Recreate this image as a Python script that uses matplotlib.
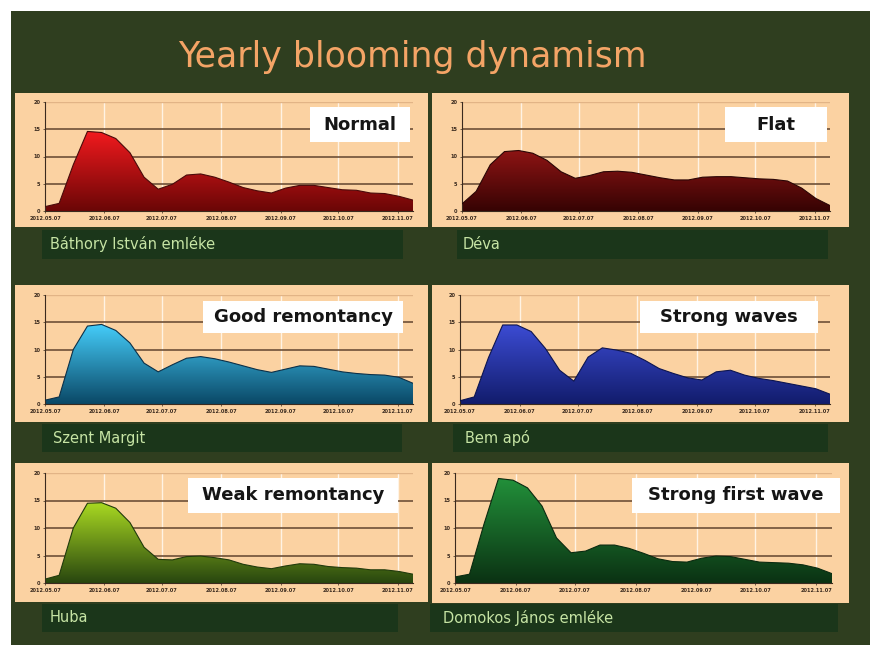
import numpy as np
import matplotlib.pyplot as plt
from matplotlib.patches import Rectangle, Polygon
from matplotlib.colors import LinearSegmentedColormap

W, H = 876, 645

month_labels = ['2012.05.07', '2012.06.07', '2012.07.07', '2012.08.07',
                '2012.09.07', '2012.10.07', '2012.11.07']
month_days = [0, 31, 61, 92, 123, 153, 184]
sample_days = np.linspace(0, 192, 27)

normal = [0.8, 1.4, 8.5, 14.6, 14.4, 13.3, 10.7, 6.2, 4.0, 4.9, 6.6, 6.8, 6.2, 5.3,
          4.3, 3.7, 3.3, 4.2, 4.7, 4.7, 4.3, 3.9, 3.8, 3.3, 3.2, 2.7, 2.0]
flat = [1.3, 3.6, 8.5, 10.9, 11.1, 10.6, 9.3, 7.2, 6.0, 6.5, 7.2, 7.3, 7.1, 6.6,
        6.1, 5.7, 5.7, 6.2, 6.3, 6.3, 6.1, 5.9, 5.8, 5.5, 4.2, 2.3, 1.0]
good = [0.7, 1.3, 10.0, 14.3, 14.6, 13.5, 11.2, 7.5, 5.9, 7.2, 8.4, 8.7, 8.3, 7.7,
        7.0, 6.3, 5.8, 6.4, 7.0, 6.9, 6.4, 5.9, 5.6, 5.4, 5.3, 4.9, 3.8]
waves = [0.6, 1.3, 8.5, 14.5, 14.5, 13.3, 10.2, 6.2, 4.2, 8.6, 10.3, 9.9, 9.3, 8.0,
         6.5, 5.6, 4.8, 4.4, 5.9, 6.2, 5.3, 4.7, 4.3, 3.8, 3.3, 2.8, 1.8]
weak = [0.7, 1.4, 10.0, 14.5, 14.6, 13.6, 11.0, 6.5, 4.3, 4.2, 4.8, 4.9, 4.6, 4.2,
        3.4, 2.9, 2.6, 3.1, 3.5, 3.4, 3.0, 2.8, 2.7, 2.4, 2.4, 2.1, 1.6]
first = [1.1, 1.6, 10.7, 19.0, 18.7, 17.3, 14.0, 8.2, 5.5, 5.8, 6.9, 6.9, 6.3, 5.4,
         4.4, 3.9, 3.8, 4.5, 4.9, 4.8, 4.3, 3.8, 3.7, 3.6, 3.3, 2.7, 1.7]

patterns = ['Normal', 'Flat', 'Good remontancy', 'Strong waves',
            'Weak remontancy', 'Strong first wave']
varieties = ['Báthory István emléke', 'Déva', 'Szent Margit', 'Bem apó',
             'Huba', 'Domokos János emléke']
series = [normal, flat, good, waves, weak, first]

# gradient colours (top, bottom, outline)
fills = [('#f21a1e', '#6a0606', '#4a0a0a'),
         ('#8e1414', '#360303', '#2a0505'),
         ('#45cdfa', '#0a4866', '#0c3048'),
         ('#3c4cd4', '#121c6c', '#0c1450'),
         ('#aada22', '#28460f', '#203a0c'),
         ('#22903a', '#0b3213', '#0a2a10')]

# layout in pixels
panel_box = [(15, 93, 428, 227), (432, 93, 849, 227),
             (15, 285, 428, 422), (432, 285, 849, 422),
             (15, 463, 428, 602), (432, 463, 849, 603)]
axes_box = [(45, 102, 413, 211), (462, 102, 830, 211),
            (45, 295, 413, 404), (460, 295, 830, 404),
            (45, 473, 413, 583), (455, 473, 832, 583)]
label_bar = [(42, 230, 403, 259), (457, 230, 828, 259),
             (42, 424, 402, 452), (453, 424, 828, 452),
             (42, 604, 398, 632), (430, 604, 838, 632)]
label_x = [50, 463, 53, 465, 50, 443]
note_box = [(310, 107, 410, 142), (725, 107, 827, 142),
            (203, 301, 403, 333), (640, 301, 818, 333),
            (188, 478, 398, 513), (632, 478, 840, 513)]

PEACH = '#fbd2a2'


def frac(x0, y0, x1, y1):
    return [x0 / W, 1 - y1 / H, (x1 - x0) / W, (y1 - y0) / H]


def rect(x0, y0, x1, y1, color, z, alpha=1.0):
    l, b, w, h = frac(x0, y0, x1, y1)
    fig.patches.append(Rectangle((l, b), w, h, transform=fig.transFigure,
                                 facecolor=color, edgecolor='none', zorder=z, alpha=alpha))


fig = plt.figure(figsize=(W / 100, H / 100), dpi=100, facecolor='white')
rect(11, 11, 870, 645, '#2f3e1f', -20)

fig.text(412 / W, 1 - 57 / H, 'Yearly blooming dynamism', color='#f4a466',
         fontsize=25, ha='center', va='center')

for i in range(6):
    rect(*panel_box[i], PEACH, -10)
    rect(*label_bar[i], '#1a361a', -10, alpha=0.95)
    fig.text(label_x[i] / W, 1 - (label_bar[i][1] + label_bar[i][3]) / 2 / H,
             varieties[i], color='#c6e4a4', fontsize=10.5, ha='left', va='center')

    ax = fig.add_axes(frac(*axes_box[i]))
    ax.set_facecolor(PEACH)
    x = sample_days
    y = np.array(series[i])
    top, bottom, edge = fills[i]
    cmap = LinearSegmentedColormap.from_list('g%d' % i, [bottom, top])
    verts = [(x[0], 0)] + list(zip(x, y)) + [(x[-1], 0)]
    poly = Polygon(verts, closed=True, facecolor='none', edgecolor='none')
    ax.add_patch(poly)
    grad = np.linspace(0, 1, 256).reshape(-1, 1)
    im = ax.imshow(grad, cmap=cmap, aspect='auto', origin='lower',
                   extent=[x[0], x[-1], 0, y.max()], zorder=2)
    im.set_clip_path(poly)
    ax.plot(x, y, color=edge, lw=0.8, zorder=3)

    ax.set_xlim(x[0], x[-1])
    ax.set_ylim(0, 20)
    ax.set_xticks(month_days)
    ax.set_xticklabels(month_labels)
    ax.set_yticks([0, 5, 10, 15, 20])
    ax.tick_params(axis='both', labelsize=3.6, length=1.5, width=0.5,
                   colors='#3a2a1e', pad=2)
    for lab in ax.get_xticklabels() + ax.get_yticklabels():
        lab.set_fontweight('bold')
    for v in month_days[1:]:
        ax.axvline(v, color='#fff3e4', lw=1.0, zorder=1)
    for v in [5, 10, 15]:
        ax.axhline(v, color='#6e5038', lw=1.2, zorder=1)
    ax.axhline(20, color='#e2b486', lw=1.0, zorder=1)
    for s in ['top', 'right']:
        ax.spines[s].set_visible(False)
    ax.spines['left'].set_color('#3a2a1e')
    ax.spines['bottom'].set_color('#3a2a1e')
    ax.spines['left'].set_linewidth(0.8)
    ax.spines['bottom'].set_linewidth(0.8)

    rect(*note_box[i], 'white', 5)
    nb = note_box[i]
    fig.text((nb[0] + nb[2]) / 2 / W, 1 - (nb[1] + nb[3]) / 2 / H, patterns[i],
             color='#151515', fontsize=13, fontweight='bold', ha='center',
             va='center', zorder=6)

fig.savefig('out.png', dpi=100, facecolor='white')
